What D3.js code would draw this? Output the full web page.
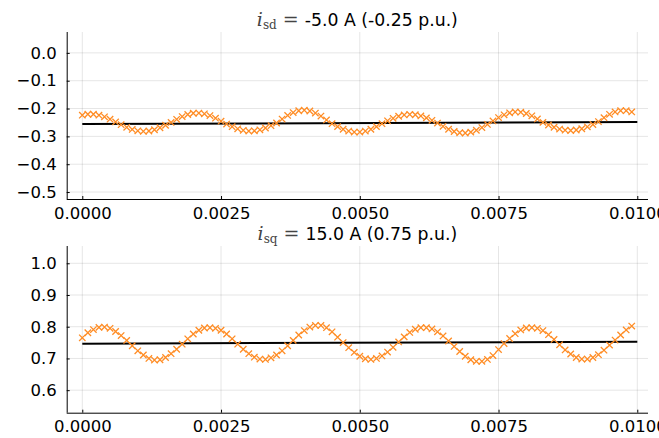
<!DOCTYPE html>
<html><head><meta charset="utf-8">
<script src="https://cdn.jsdelivr.net/npm/d3@7"></script>
<style>
html,body{margin:0;padding:0;background:#fff;}
svg{display:block;font-family:"DejaVu Sans",sans-serif;}
</style></head>
<body>
<svg id="c" width="659" height="438"></svg>
<script>
// time samples (s)
const tStep = 0.0001;
const time = d3.range(100).map(k => +(k * tStep).toFixed(4));
// i_sd measured (p.u.)
const isd = [-0.2237,-0.2204,-0.2204,-0.2237,-0.2298,-0.2382,-0.2480,-0.2580,-0.2674,-0.2750,
-0.2800,-0.2820,-0.2807,-0.2762,-0.2691,-0.2600,-0.2498,-0.2387,-0.2288,-0.2213,
-0.2169,-0.2162,-0.2191,-0.2254,-0.2345,-0.2453,-0.2559,-0.2651,-0.2729,-0.2783,
-0.2809,-0.2802,-0.2765,-0.2700,-0.2616,-0.2520,-0.2379,-0.2248,-0.2144,-0.2079,
-0.2060,-0.2089,-0.2162,-0.2272,-0.2408,-0.2543,-0.2650,-0.2743,-0.2810,-0.2846,
-0.2846,-0.2810,-0.2743,-0.2650,-0.2543,-0.2442,-0.2352,-0.2278,-0.2229,-0.2210,
-0.2223,-0.2266,-0.2335,-0.2423,-0.2522,-0.2640,-0.2745,-0.2824,-0.2870,-0.2878,
-0.2847,-0.2780,-0.2684,-0.2570,-0.2446,-0.2326,-0.2225,-0.2155,-0.2122,-0.2130,
-0.2179,-0.2263,-0.2373,-0.2497,-0.2591,-0.2673,-0.2738,-0.2778,-0.2790,-0.2772,
-0.2726,-0.2658,-0.2574,-0.2467,-0.2328,-0.2209,-0.2122,-0.2076,-0.2076,-0.2122];
// i_sq measured (p.u.)
const isq = [0.765,0.781,0.791,0.798,0.799,0.795,0.785,0.772,0.757,0.740,
0.724,0.711,0.700,0.695,0.696,0.703,0.715,0.729,0.745,0.762,
0.777,0.789,0.796,0.797,0.795,0.789,0.777,0.762,0.745,0.729,
0.715,0.704,0.698,0.697,0.702,0.711,0.724,0.740,0.757,0.774,
0.788,0.799,0.804,0.804,0.797,0.784,0.767,0.750,0.734,0.719,
0.707,0.699,0.697,0.700,0.708,0.720,0.735,0.752,0.768,0.782,
0.792,0.797,0.797,0.793,0.784,0.771,0.755,0.738,0.722,0.707,
0.696,0.691,0.691,0.697,0.709,0.728,0.747,0.763,0.778,0.790,
0.796,0.797,0.795,0.788,0.775,0.760,0.743,0.727,0.714,0.703,
0.698,0.698,0.703,0.712,0.726,0.742,0.758,0.774,0.790,0.802];
// reference (black) line
const refTime = [0, 0.01];
const refSd = [-0.2555, -0.2485];
const refSq = [0.7465, 0.7525];
// ticks
const xTicks = [0, 0.0025, 0.005, 0.0075, 0.01];
const xTickLabels = ["0.0000","0.0025","0.0050","0.0075","0.0100"];
const ySdTicks = [0.0,-0.1,-0.2,-0.3,-0.4,-0.5];
const ySqTicks = [0.6,0.7,0.8,0.9,1.0];
const titles = [
  {sub:"sd", rest:"-5.0 A (-0.25 p.u.)"},
  {sub:"sq", rest:"15.0 A (0.75 p.u.)"}
];

const svg = d3.select("#c");
const L = 66.7, R = 648;
const panels = [
  {top:32, bottom:199, ydom:[-0.525,0.075], yt:ySdTicks, fmt:d3.format(".1f"), meas:isd, ref:refSd, title:titles[0], titleY:26},
  {top:246, bottom:412.7, ydom:[0.529,1.0545], yt:ySqTicks, fmt:d3.format(".1f"), meas:isq, ref:refSq, title:titles[1], titleY:240}
];
const x = d3.scaleLinear().domain([-0.000281, 0.010193]).range([L, R]);
const orange = "#ff8c24";

panels.forEach(p => {
  const y = d3.scaleLinear().domain(p.ydom).range([p.bottom, p.top]);
  const g = svg.append("g");
  // grid
  g.append("g").selectAll("line").data(xTicks).join("line")
    .attr("x1", d=>x(d)).attr("x2", d=>x(d)).attr("y1", p.top).attr("y2", p.bottom)
    .attr("stroke","#000").attr("stroke-opacity",0.1).attr("stroke-width",1);
  g.append("g").selectAll("line").data(p.yt).join("line")
    .attr("x1", L).attr("x2", R).attr("y1", d=>y(d)).attr("y2", d=>y(d))
    .attr("stroke","#000").attr("stroke-opacity",0.1).attr("stroke-width",1);
  // axes
  const yAxis = d3.axisLeft(y).tickValues(p.yt).tickFormat(d => p.fmt(d).replace("-", "\u2212")).tickSizeInner(-3).tickSizeOuter(0).tickPadding(10);
  const ya = g.append("g").attr("transform",`translate(${L},0)`).call(yAxis);
  ya.select(".domain").attr("d", `M0.5,${p.top}V${p.bottom}`).attr("stroke","#000");
  const xAxis = d3.axisBottom(x).tickValues(xTicks).tickFormat((d,i)=>xTickLabels[i]).tickSizeInner(-3).tickSizeOuter(0).tickPadding(8);
  const xa = g.append("g").attr("transform",`translate(0,${p.bottom})`).call(xAxis);
  xa.select(".domain").attr("d", `M${L},0.5H${R}`).attr("stroke","#000");
  [ya, xa].forEach(a => a.selectAll("text").attr("font-size","16.5px").attr("font-family","DejaVu Sans").attr("fill","#000"));
  xa.selectAll(".tick text").attr("dy","0.71em");
  // reference line
  const refData = refTime.map((t,i)=>[t, p.ref[i]]);
  g.append("path").datum(refData)
    .attr("d", d3.line().x(d=>x(d[0])).y(d=>y(d[1])))
    .attr("fill","none").attr("stroke","#000").attr("stroke-width",2);
  // measured markers (x shape)
  const s = 3.2;
  g.append("g").selectAll("path").data(time.map((t,i)=>[t,p.meas[i]])).join("path")
    .attr("d", d => { const cx=x(d[0]), cy=y(d[1]); return `M${cx-s},${cy-s}L${cx+s},${cy+s}M${cx-s},${cy+s}L${cx+s},${cy-s}`; })
    .attr("stroke", orange).attr("stroke-width",1.3).attr("fill","none");
  // title
  const tt = g.append("text").attr("x",(L+R)/2).attr("y",p.titleY).attr("text-anchor","middle")
    .attr("font-size","17.3px").attr("fill","#000");
  tt.append("tspan").attr("font-family","DejaVu Serif").attr("font-style","italic").attr("fill","#444").attr("font-size","19px").text("i");
  tt.append("tspan").attr("font-family","DejaVu Serif").attr("fill","#444").attr("font-size","12px").attr("dy","3").text(p.title.sub);
  tt.append("tspan").attr("font-family","DejaVu Serif").attr("fill","#444").attr("font-size","19px").attr("dy","-3").text(" = ");
  tt.append("tspan").attr("font-family","DejaVu Sans").text(p.title.rest);
});
</script>
</body></html>
